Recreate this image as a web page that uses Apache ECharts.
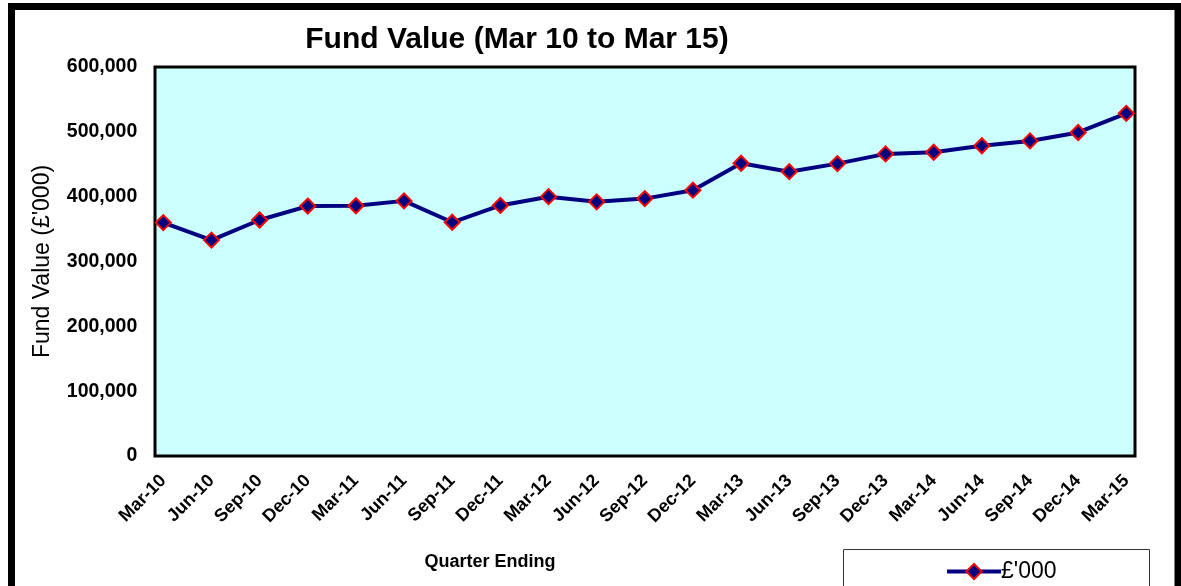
<!DOCTYPE html>
<html>
<head>
<meta charset="utf-8">
<script src="https://cdn.jsdelivr.net/npm/echarts@6/dist/echarts.min.js"></script>
<style>
html, body {margin: 0; padding: 0; background: #fff}
#chart {width: 1181px; height: 586px}
</style>
</head>
<body>
<div id="chart"></div>
<script>
const quarters = ['Mar-10', 'Jun-10', 'Sep-10', 'Dec-10', 'Mar-11', 'Jun-11', 'Sep-11', 'Dec-11', 'Mar-12', 'Jun-12',
    'Sep-12', 'Dec-12', 'Mar-13', 'Jun-13', 'Sep-13', 'Dec-13', 'Mar-14', 'Jun-14', 'Sep-14', 'Dec-14', 'Mar-15']
const fundValue = [360000, 333000, 364000, 385500, 386000, 393500, 360500, 386500, 400000, 392000,
    397000, 410000, 451500, 438500, 451000, 466000, 468500, 478500, 486000, 499000, 528500]
const yTicks = {min: 0, max: 600000, step: 100000}

const font = 'Arial, "Liberation Sans", sans-serif'
const fmt = v => String(v).replace(/\B(?=(\d{3})+(?!\d))/g, ',')

window.onload = () => {
    const chart = echarts.init(document.getElementById('chart'))
    chart.setOption({
        animation: false,
        title: [{
            text: 'Fund Value (Mar 10 to Mar 15)',
            left: 512, top: 20, textAlign: 'center',
            textStyle: {fontFamily: font, fontSize: 30, fontWeight: 'bold', color: '#000'}
        }, {
            text: 'Quarter Ending',
            left: 485, top: 548, textAlign: 'center',
            textStyle: {fontFamily: font, fontSize: 18, fontWeight: 'bold', color: '#000'}
        }],
        graphic: [{
            type: 'rect', silent: true, z: -1,
            shape: {x: 11.5, y: 6.5, width: 1166.5, height: 640},
            style: {fill: '#fff', stroke: '#000', lineWidth: 7}
        }, {
            type: 'rect', silent: true, z: 0,
            shape: {x: 843.5, y: 549.5, width: 306, height: 50},
            style: {fill: '#fff', stroke: '#333', lineWidth: 1}
        }],
        legend: {
            left: 940, top: 555,
            itemWidth: 54, itemHeight: 19, itemGap: 0,
            lineStyle: {width: 4},
            textStyle: {fontFamily: font, fontSize: 23, color: '#000', padding: [0, 0, 0, -5]},
            data: ["£'000"]
        },
        grid: [
            {left: 155, right: 46, top: 67, bottom: 130, show: true, backgroundColor: '#ccffff', borderColor: '#000', borderWidth: 3},
            {left: 163.3, right: 54.7, top: 67, bottom: 130}
        ],
        xAxis: [
            {gridIndex: 0, type: 'category', show: false, data: quarters},
            {
                gridIndex: 1, type: 'category', boundaryGap: false, data: quarters,
                axisLine: {show: false}, axisTick: {show: false},
                axisLabel: {rotate: 45, margin: 22, interval: 0, fontFamily: font, fontSize: 18, fontWeight: 'bold', color: '#000'}
            }
        ],
        yAxis: [
            {gridIndex: 0, type: 'value', show: false},
            {
                gridIndex: 1, type: 'value', min: yTicks.min, max: yTicks.max, interval: yTicks.step,
                name: "Fund Value (£'000)", nameLocation: 'middle', nameGap: 109, nameRotate: 90,
                nameTextStyle: {fontFamily: font, fontSize: 23, color: '#000'},
                axisLine: {show: false}, axisTick: {show: false}, splitLine: {show: false},
                axisLabel: {margin: 26, formatter: fmt, fontFamily: font, fontSize: 19.5, fontWeight: 'bold', color: '#000'}
            }
        ],
        series: [{
            name: "£'000", type: 'line', xAxisIndex: 1, yAxisIndex: 1,
            data: fundValue,
            symbol: 'diamond', symbolSize: 15,
            lineStyle: {color: '#000080', width: 4},
            itemStyle: {color: '#000080', borderColor: '#ff0000', borderWidth: 2}
        }]
    })
}
</script>
</body>
</html>
